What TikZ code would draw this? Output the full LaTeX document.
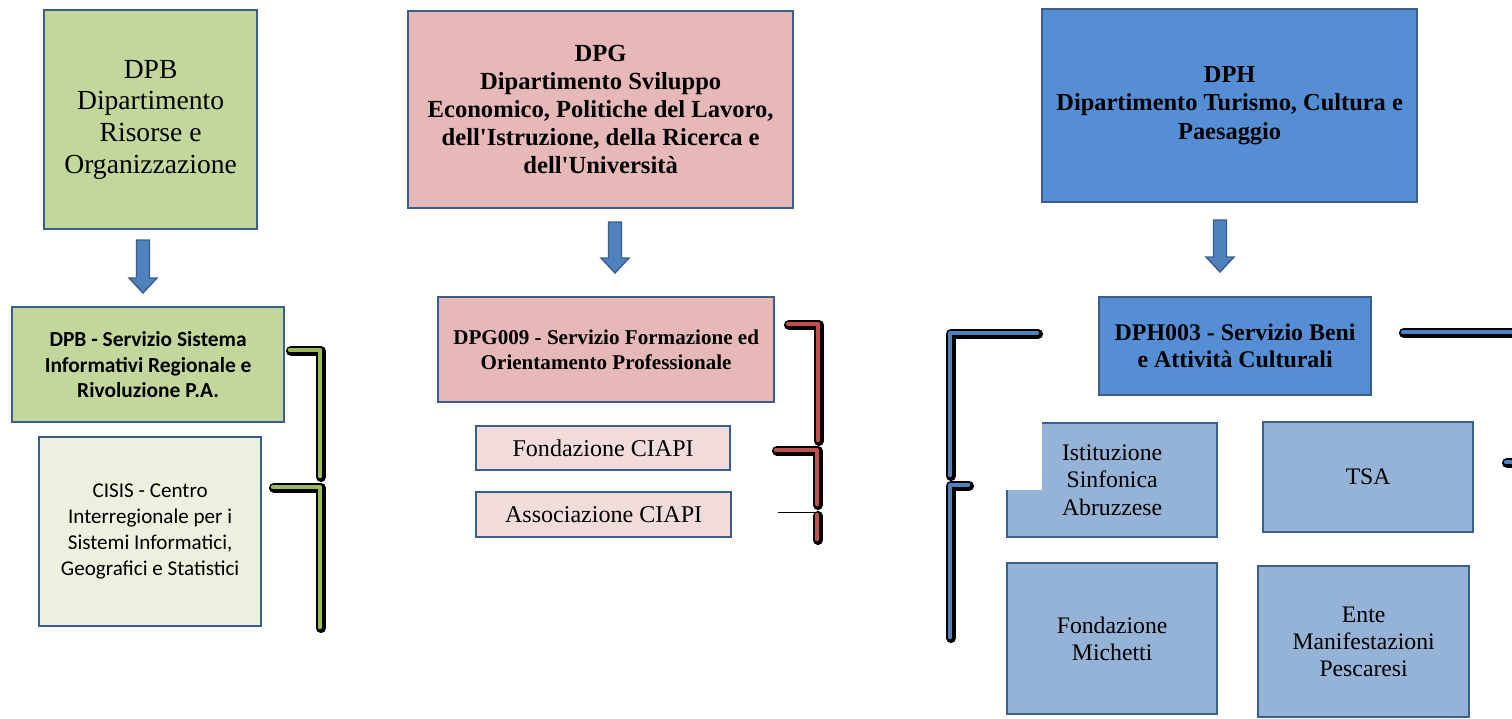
\documentclass[tikz,border=0pt]{standalone}
\usepackage{fontspec}
\setmainfont{Liberation Serif}
\newfontfamily\calibri{Carlito}
\usetikzlibrary{positioning}

\definecolor{boxline}{HTML}{3A5F8B}
\definecolor{arrowfill}{HTML}{4F81BD}
\definecolor{greendark}{HTML}{C3D69B}
\definecolor{greenlight}{HTML}{EBF1DE}
\definecolor{pinkdark}{HTML}{E6B9B8}
\definecolor{pinklight}{HTML}{F2DCDB}
\definecolor{bluedark}{HTML}{558ED5}
\definecolor{bluelight}{HTML}{95B3D7}
\definecolor{brkgreen}{HTML}{9BBB59}
\definecolor{brkred}{HTML}{C0504D}
\definecolor{brkblue}{HTML}{4F81BD}

\newcommand{\unitpx}{0.02cm}
\newcommand{\downarr}[3]{%
  \draw[downarrow] (#1-6.5,#2) -- (#1+6.5,#2) -- (#1+6.5,#3-15) -- (#1+14,#3-15)
    -- (#1,#3) -- (#1-14,#3-15) -- (#1-6.5,#3-15) -- cycle;}
% bracket line: black shadow first, colour on top
\newcommand{\bracket}[2]{%
  \draw[brkshadow, shift={(1,1)}] #2;
  \draw[brk=#1] #2;}

\begin{document}
\begin{tikzpicture}[x=0.02cm, y=-0.02cm,
    box/.style={draw=boxline, line width=1.3pt, anchor=north west, align=center, inner sep=0pt},
    brk/.style={draw=#1, line width=2.6pt, line cap=round, line join=round},
    brkshadow/.style={draw=black, line width=5.8pt, line cap=round, line join=round},
    downarrow/.style={fill=arrowfill, draw=boxline, line width=0.8pt}]
    \useasboundingbox[fill=white] (0,0) rectangle (1512,718);

    % DPB column
    \node[box, fill=greendark, minimum width=213*\unitpx, minimum height=219*\unitpx,
      font={\fontsize{15.7}{18}\selectfont}] (dpb) at (43,9)
      {DPB\\Dipartimento\\Risorse e\\Organizzazione};
    \downarr{143}{240}{293}
    \node[box, fill=greendark, minimum width=272*\unitpx, minimum height=115*\unitpx,
      font={\calibri\bfseries\fontsize{12.2}{14.7}\selectfont}] (dpbserv) at (11,306)
      {DPB - Servizio Sistema\\Informativi Regionale e\\Rivoluzione P.A.};
    \node[box, fill=greenlight, minimum width=222*\unitpx, minimum height=189*\unitpx,
      font={\calibri\fontsize{12}{14.7}\selectfont}] (cisis) at (38,436)
      {CISIS - Centro\\Interregionale per i\\Sistemi Informatici,\\Geografici e Statistici};

    % DPG column
    \node[box, fill=pinkdark, minimum width=385*\unitpx, minimum height=197*\unitpx,
      font={\bfseries\fontsize{14}{15.9}\selectfont}] (dpg) at (407,10)
      {DPG\\Dipartimento Sviluppo\\Economico, Politiche del Lavoro,\\dell\textquotesingle Istruzione, della Ricerca e\\dell\textquotesingle Università};
    \downarr{615}{222}{273}
    \node[box, fill=pinkdark, minimum width=336*\unitpx, minimum height=105*\unitpx,
      font={\bfseries\fontsize{12}{14.2}\selectfont}] (dpgserv) at (437,296)
      {DPG009 - Servizio Formazione ed\\Orientamento Professionale};
    \node[box, fill=pinklight, minimum width=254*\unitpx, minimum height=44*\unitpx,
      font={\fontsize{13.7}{16}\selectfont}] (ciapif) at (475,425) {Fondazione CIAPI};
    \node[box, fill=pinklight, minimum width=255*\unitpx, minimum height=45*\unitpx,
      font={\fontsize{13.7}{16}\selectfont}] (ciapia) at (475,491) {Associazione CIAPI};

    % DPH column
    \node[box, fill=bluedark, minimum width=375*\unitpx, minimum height=193*\unitpx,
      font={\bfseries\fontsize{13.9}{16.1}\selectfont}] (dph) at (1041,8)
      {DPH\\Dipartimento Turismo, Cultura e\\Paesaggio};
    \downarr{1220}{220}{272}
    \node[box, fill=bluedark, minimum width=272*\unitpx, minimum height=98*\unitpx,
      font={\bfseries\fontsize{13.6}{15.5}\selectfont}] (dphserv) at (1098,296)
      {DPH003 - Servizio Beni\\e Attività Culturali};
    \node[box, fill=bluelight, minimum width=210*\unitpx, minimum height=114*\unitpx,
      font={\fontsize{13.5}{15.5}\selectfont}] (isa) at (1006,422)
      {Istituzione\\Sinfonica\\Abruzzese};
    \fill[white] (1004,420) rectangle (1042,490);
    \node[box, fill=bluelight, minimum width=210*\unitpx, minimum height=110*\unitpx,
      font={\fontsize{13.5}{15.5}\selectfont}] (tsa) at (1262,421) {TSA};
    \node[box, fill=bluelight, minimum width=210*\unitpx, minimum height=151*\unitpx,
      font={\fontsize{13.5}{15.5}\selectfont}] (michetti) at (1006,562)
      {Fondazione\\Michetti};
    \node[box, fill=bluelight, minimum width=211*\unitpx, minimum height=151*\unitpx,
      font={\fontsize{13.5}{15.5}\selectfont}] (ente) at (1257,565)
      {Ente\\Manifestazioni\\Pescaresi};

    % Brackets
    \bracket{brkgreen}{(290,350) -- (320,350) -- (320,476)}
    \bracket{brkgreen}{(273,487) -- (320,487) -- (320,627)}

    \bracket{brkred}{(788,324) -- (818,324) -- (818,440)}
    \bracket{brkred}{(776,450) -- (817,450) -- (817,504)}
    \draw[thin] (778,512) -- (818,512);
    \bracket{brkred}{(817,515) -- (817,539)}

    \bracket{brkblue}{(1037,333) -- (950,333) -- (950,475)}
    \bracket{brkblue}{(968,485) -- (950,485) -- (950,637)}
    \bracket{brkblue}{(1403,332) -- (1530,332)}
    \bracket{brkblue}{(1506,462) -- (1530,462)}
\end{tikzpicture}
\end{document}
